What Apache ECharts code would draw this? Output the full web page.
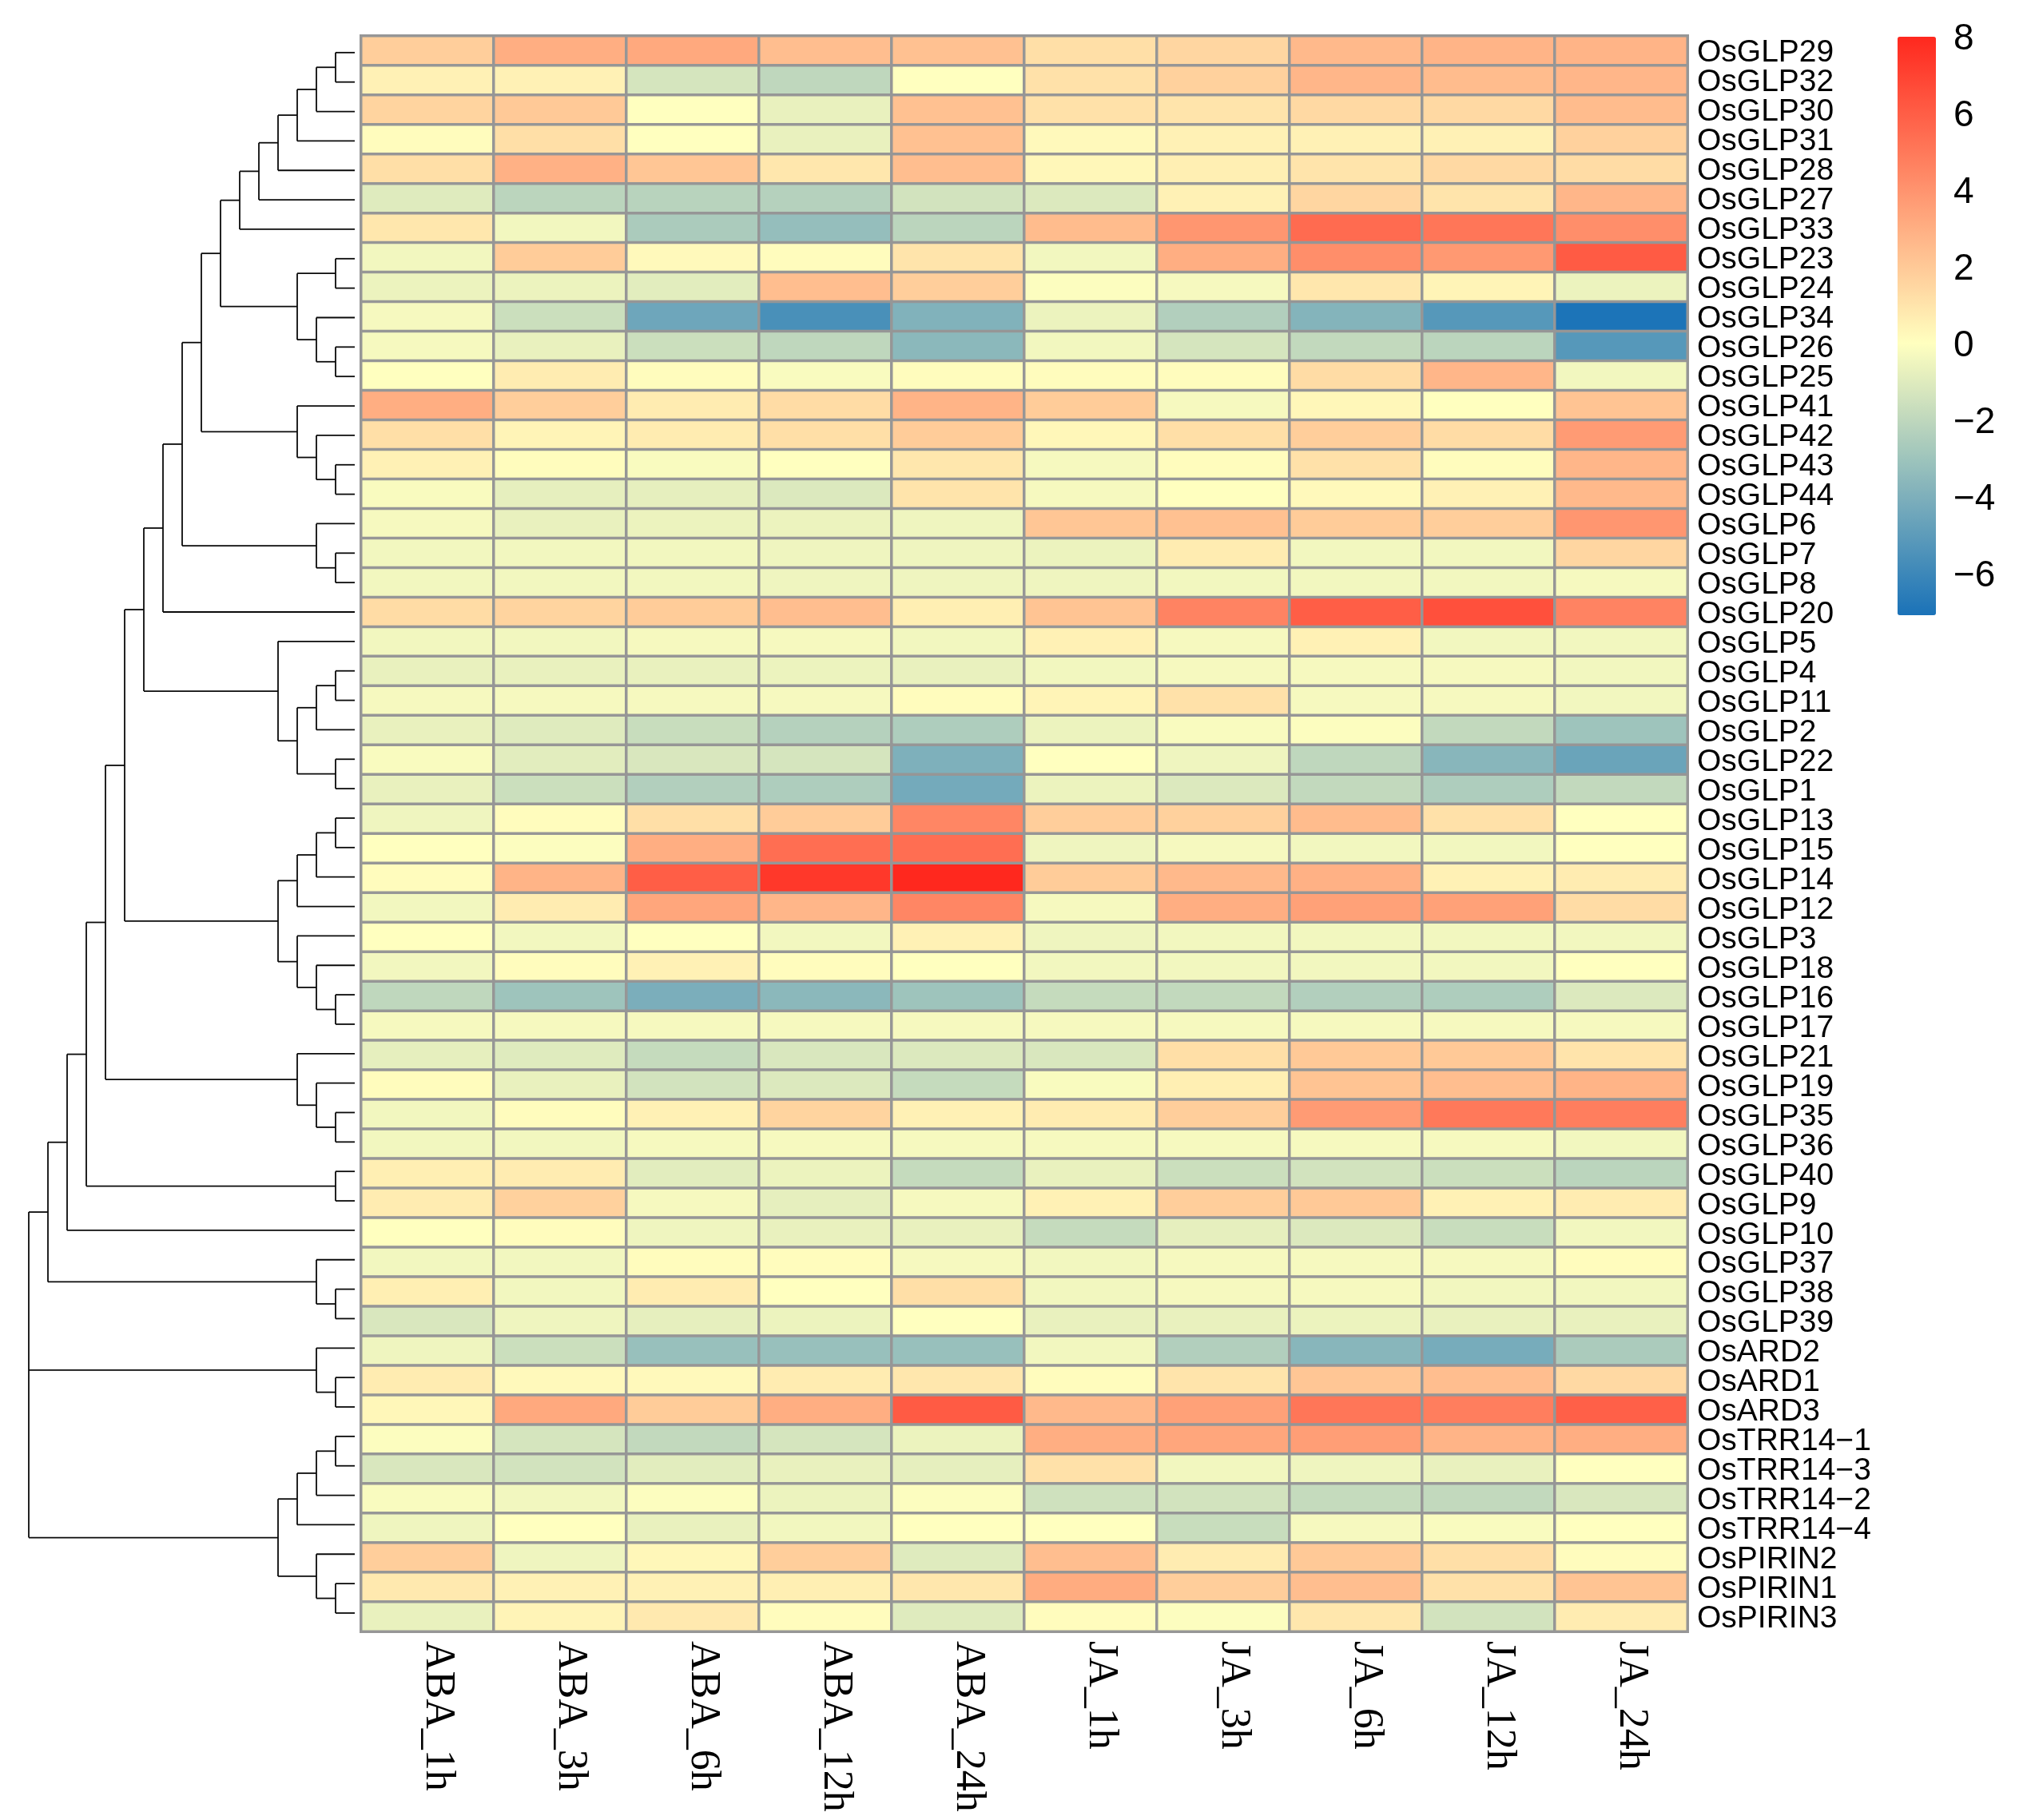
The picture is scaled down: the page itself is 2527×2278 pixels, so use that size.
<!DOCTYPE html>
<html>
<head>
<meta charset="utf-8">
<style>html,body{margin:0;padding:0;background:#fff}#chart{width:2527px;height:2278px}</style>
<script src="https://cdn.jsdelivr.net/npm/echarts@6/dist/echarts.min.js"></script>
</head>
<body>
<div id="chart"></div>
<script>
const conditions = ["ABA_1h","ABA_3h","ABA_6h","ABA_12h","ABA_24h","JA_1h","JA_3h","JA_6h","JA_12h","JA_24h"];
const genes = ["OsGLP29","OsGLP32","OsGLP30","OsGLP31","OsGLP28","OsGLP27","OsGLP33","OsGLP23","OsGLP24","OsGLP34","OsGLP26","OsGLP25",
"OsGLP41","OsGLP42","OsGLP43","OsGLP44","OsGLP6","OsGLP7","OsGLP8","OsGLP20","OsGLP5","OsGLP4","OsGLP11","OsGLP2","OsGLP22","OsGLP1",
"OsGLP13","OsGLP15","OsGLP14","OsGLP12","OsGLP3","OsGLP18","OsGLP16","OsGLP17","OsGLP21","OsGLP19","OsGLP35","OsGLP36","OsGLP40","OsGLP9",
"OsGLP10","OsGLP37","OsGLP38","OsGLP39","OsARD2","OsARD1","OsARD3","OsTRR14\u22121","OsTRR14\u22123","OsTRR14\u22122","OsTRR14\u22124","OsPIRIN2","OsPIRIN1","OsPIRIN3"];
const colorbarTicks = [8,6,4,2,0,-2,-4,-6];

const topBlock = [
[1.8,3.0,3.2,2.4,2.3,1.2,1.5,2.6,2.8,2.8],
[0.5,0.5,-1.3,-2.0,0.0,1.1,1.7,2.7,2.5,2.7],
[1.6,2.0,0.0,-0.7,2.3,1.1,1.0,1.4,1.4,2.5],
[0.1,1.2,0.0,-0.7,2.3,0.2,0.5,0.5,0.5,1.7],
[1.2,2.9,2.1,0.9,2.4,0.3,0.6,1.0,1.4,1.3],
[-1.0,-2.1,-2.2,-2.3,-1.4,-1.1,0.5,1.5,1.0,2.7],
[0.9,-0.4,-2.6,-3.3,-2.1,2.5,3.9,5.5,5.1,4.2],
[-0.4,1.9,0.2,0.1,1.0,-0.4,3.0,4.2,3.8,6.1],
[-0.6,-0.6,-0.9,2.4,1.8,-0.1,-0.3,0.9,0.4,-0.6],
[-0.3,-1.6,-4.5,-5.6,-3.9,-0.6,-2.4,-3.8,-5.2,-7.0],
[-0.3,-0.7,-1.6,-2.0,-3.6,-0.4,-1.3,-1.9,-2.1,-5.2],
[0.0,0.7,0.1,-0.2,0.1,0.1,0.1,1.3,2.7,-0.4],
[3.0,1.8,0.7,1.3,2.8,1.9,-0.3,0.3,0.0,2.2],
[1.2,0.4,0.7,1.2,1.9,0.3,1.2,1.8,1.3,3.7]
];
const upperBlock = [
[0.5,0.1,-0.2,0.0,0.9,-0.3,0.1,1.1,0.1,2.7],
[-0.2,-0.8,-0.8,-1.1,1.0,-0.3,0.0,0.2,0.5,2.6],
[-0.3,-0.7,-0.6,-0.6,-0.5,2.1,2.3,1.9,1.8,3.9],
[-0.4,-0.4,-0.4,-0.5,-0.5,-0.6,0.7,-0.4,-0.4,1.5],
[-0.4,-0.4,-0.4,-0.5,-0.5,-0.5,-0.4,-0.4,-0.4,-0.3],
[1.3,1.6,1.9,2.4,0.6,2.2,4.6,6.0,6.5,4.6],
[-0.4,-0.4,-0.3,-0.3,-0.4,0.5,-0.3,0.5,-0.4,-0.4],
[-0.7,-0.7,-0.7,-0.6,-0.7,-0.4,-0.3,-0.3,-0.3,-0.4],
[-0.3,-0.3,-0.3,-0.3,0.1,0.4,1.1,-0.3,-0.3,-0.4],
[-0.7,-1.0,-1.7,-2.3,-2.5,-0.6,-0.2,-0.1,-1.9,-3.0],
[-0.2,-0.9,-1.2,-1.3,-4.0,0.0,-0.5,-2.0,-3.7,-4.6],
[-0.7,-1.6,-2.4,-2.5,-4.3,-0.6,-1.1,-1.9,-2.5,-1.9],
[-0.5,0.1,1.2,1.9,4.5,1.8,1.7,2.5,1.1,0.0]
];
const middleBlock = [
[0.0,-0.1,3.0,5.4,5.4,-0.5,-0.3,-0.4,-0.4,0.0],
[0.1,2.8,6.0,7.4,8.0,1.9,2.6,2.9,0.5,0.7],
[-0.4,0.7,3.3,2.7,4.5,-0.3,3.0,3.5,3.5,1.3],
[0.0,-0.4,0.0,-0.4,0.5,-0.5,-0.4,-0.4,-0.4,-0.4],
[-0.4,0.1,0.5,0.1,0.0,-0.4,-0.4,-0.4,-0.4,0.0],
[-2.0,-3.0,-4.1,-3.6,-3.0,-1.8,-1.9,-2.4,-2.5,-1.1],
[-0.3,-0.3,-0.3,-0.3,-0.3,-0.3,-0.3,-0.3,-0.3,-0.3],
[-0.8,-1.0,-1.8,-1.2,-1.1,-1.2,1.2,2.0,2.0,1.0],
[0.1,-0.7,-1.4,-1.1,-1.8,-0.2,0.6,2.2,2.4,2.8],
[-0.4,0.1,0.5,1.6,0.5,0.7,1.8,3.7,5.0,4.8],
[-0.4,-0.4,-0.3,-0.3,-0.3,-0.3,-0.3,-0.3,-0.3,-0.4],
[0.6,0.7,-0.9,-0.6,-1.8,-0.7,-1.6,-1.4,-1.6,-2.1],
[0.7,1.7,-0.3,-0.8,-0.3,0.5,1.8,2.0,0.5,0.7],
[0.0,0.1,-0.5,-0.7,-0.7,-1.8,-0.8,-1.1,-1.7,-0.4]
];
const lowerBlock = [
[-0.4,-0.4,0.1,0.1,-0.3,-0.4,-0.3,-0.3,-0.3,0.1],
[0.6,-0.4,0.7,0.0,1.2,-0.4,-0.3,-0.3,-0.4,-0.4],
[-1.2,-0.5,-0.8,-0.6,0.0,-0.7,-0.7,-0.6,-0.7,-0.7],
[-0.5,-1.6,-3.2,-3.2,-3.2,-0.4,-2.4,-3.7,-4.2,-2.6],
[0.7,0.2,0.2,0.7,0.9,0.1,1.0,2.1,2.4,1.4],
[0.3,3.2,1.9,3.0,6.1,2.6,3.5,5.1,4.8,5.9],
[-0.1,-1.3,-1.9,-1.3,-0.6,3.0,3.3,3.6,2.8,3.0],
[-1.2,-1.4,-0.9,-0.7,-0.8,1.1,-0.4,-0.5,-0.7,0.0],
[-0.2,-0.4,-0.1,-0.6,-0.1,-1.5,-1.4,-1.8,-1.9,-1.2],
[-0.5,0.0,-0.7,-0.4,0.0,0.0,-1.7,-0.3,-0.2,0.0],
[1.8,-0.5,0.3,1.8,-1.0,2.4,0.7,2.0,1.2,0.1],
[0.8,0.5,0.5,0.6,0.9,3.1,1.8,2.4,1.1,2.2],
[-0.7,0.4,0.8,0.1,-1.0,0.1,-0.1,0.9,-1.4,0.7]
];

// dendrogram clusters: [merge level, child, child, ...]; a number child is a row index
const clusterA = [6,[5,[4,[3,[2,[1,0,1],2],3],4],5],6];
const clusterB = [3,[1,7,8],[2,9,[1,10,11]]];
const clusterC = [3,12,[2,13,[1,14,15]]];
const clusterD = [2,16,[1,17,18]];
const clusterE = [4,20,[3,[2,[1,21,22],23],[1,24,25]]];
const clusterF = [4,[3,[2,[1,26,27],28],29],[3,30,[2,31,[1,32,33]]]];
const clusterG = [3,34,[2,35,[1,36,37]]];
const clusterH = [1,38,39];
const clusterI = [2,41,[1,42,43]];
const clusterJ = [2,44,[1,45,46]];
const clusterK = [4,[3,[2,[1,47,48],49],50],[2,51,[1,52,53]]];
const dendroRoot = [17,[16,[15,[14,[13,[12,[11,[10,[9,[8,[7,clusterA,clusterB],clusterC],clusterD],19],clusterE],clusterF],clusterG],clusterH],40],clusterI],clusterJ,clusterK];

const VMIN = -7.08, VMAX = 8;
const LOW = [26,114,184], MID = [255,255,191], HIGH = [255,40,30];
function colorAt(v){
  const a = v < 0 ? LOW : HIGH, t = v < 0 ? v / VMIN : v / VMAX;
  return 'rgb(' + MID.map((m,i)=>Math.round(m + (a[i]-m)*t)).join(',') + ')';
}
const ramp = [];
for (let i = 0; i <= 151; i++) ramp.push(colorAt(VMIN + (VMAX-VMIN)*i/151));

const expression = topBlock.concat(upperBlock, middleBlock, lowerBlock);
const cells = [];
expression.forEach((row,r)=>row.forEach((v,c)=>cells.push([c,r,v])));

const dendroNodes = [];
function walk(node){
  if (typeof node === 'number') return {level:0, y:node};
  const kids = node.slice(1).map(walk);
  const ys = kids.map(k=>k.y);
  const y = ys.reduce((a,b)=>a+b,0)/ys.length;
  dendroNodes.push({level:node[0], kids});
  return {level:node[0], y};
}
walk(dendroRoot);

const line = {stroke:'#0a0a0a', lineWidth:1.8, fill:null};
function renderDendro(params, api){
  const n = dendroNodes[params.dataIndex];
  const ys = n.kids.map(k=>k.y);
  const children = [];
  const p0 = api.coord([n.level, Math.min.apply(null,ys)]), p1 = api.coord([n.level, Math.max.apply(null,ys)]);
  children.push({type:'line', shape:{x1:p0[0],y1:p0[1],x2:p1[0],y2:p1[1]}, style:line, silent:true});
  n.kids.forEach(k=>{
    const a = api.coord([n.level,k.y]), b = api.coord([k.level,k.y]);
    children.push({type:'line', shape:{x1:a[0],y1:a[1],x2:b[0],y2:b[1]}, style:line, silent:true});
  });
  return {type:'group', children};
}

const chart = echarts.init(document.getElementById('chart'), null, {renderer:'canvas', width:2527, height:2278});
chart.setOption({
  animation:false,
  backgroundColor:'#ffffff',
  grid:[
    {left:452, top:45, width:1660, height:1997},
    {left:12, top:47.4, width:432, height:1990},
    {left:2375, top:46, width:48, height:724}
  ],
  xAxis:[
    {type:'category', gridIndex:0, data:conditions, position:'bottom',
     axisLine:{show:false}, axisTick:{show:false}, splitLine:{show:false},
     axisLabel:{rotate:-90, align:'left', verticalAlign:'bottom', lineHeight:26, margin:12, interval:0,
       fontFamily:'Liberation Serif', fontSize:52, color:'#000'}},
    {type:'value', gridIndex:1, min:0, max:18, inverse:true, show:false},
    {type:'value', gridIndex:2, min:0, max:1, show:false}
  ],
  yAxis:[
    {type:'category', gridIndex:0, data:genes, inverse:true, position:'right',
     axisLine:{show:false}, axisTick:{show:false}, splitLine:{show:false},
     axisLabel:{margin:12, interval:0, align:'left', verticalAlign:'top', lineHeight:6, fontFamily:'Liberation Sans', fontSize:39, color:'#000'}},
    {type:'value', gridIndex:1, min:-0.5, max:53.5, inverse:true, show:false},
    {type:'value', gridIndex:2, min:VMIN, max:VMAX, position:'right',
     axisLine:{show:false}, axisTick:{show:false}, splitLine:{show:false},
     axisLabel:{margin:22, verticalAlign:'top', lineHeight:6, customValues:colorbarTicks, fontFamily:'Liberation Sans', fontSize:46, color:'#000',
       formatter:v=>String(v).replace('-','\u2212')}}
  ],
  visualMap:{
    type:'continuous', seriesIndex:0, min:VMIN, max:VMAX, calculable:false, realtime:false,
    left:2375, top:46, itemWidth:48, itemHeight:724, padding:0, text:null, showLabel:false,
    inRange:{color:ramp}, hoverLink:false
  },
  series:[
    {type:'heatmap', xAxisIndex:0, yAxisIndex:0, data:cells, progressive:0,
     itemStyle:{borderColor:'#969696', borderWidth:3.5}, label:{show:false}, emphasis:{disabled:true}},
    {type:'custom', xAxisIndex:1, yAxisIndex:1, data:dendroNodes.map((n,i)=>[n.level,i]), renderItem:renderDendro, silent:true, clip:false}
  ]
});
</script>
</body>
</html>
